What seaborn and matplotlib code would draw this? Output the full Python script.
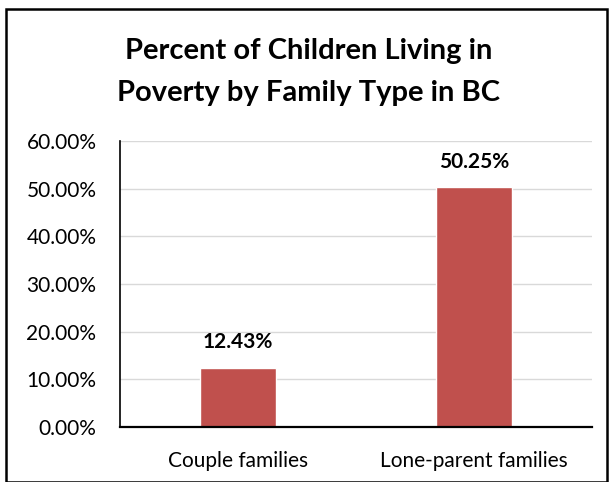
import matplotlib
matplotlib.use("Agg")
import matplotlib.pyplot as plt
import seaborn as sns
import pandas as pd
from matplotlib.patches import Rectangle
from matplotlib.ticker import FuncFormatter

categories = ["Couple families", "Lone-parent families"]
values = [12.43, 50.25]
yticks = [0, 10, 20, 30, 40, 50, 60]

sns.set_theme(style="white")
plt.rcParams['font.family'] = ['Lato', 'DejaVu Sans']

df = pd.DataFrame({"type": categories, "pct": values})

fig = plt.figure(figsize=(6.13, 4.82), dpi=100)
ax = fig.add_axes([120/613, 1-427/482, (592-120)/613, (427-141)/482])

sns.barplot(data=df, x="type", y="pct", color="#C0504D", width=0.32, ax=ax, saturation=1)

ax.set_ylim(0, 60)
ax.set_yticks(yticks)
ax.yaxis.set_major_formatter(FuncFormatter(lambda v, p: f"{v:.2f}%"))
ax.yaxis.grid(True, color="#D9D9D9", linewidth=1)
ax.set_axisbelow(True)
ax.set_xlabel("")
ax.set_ylabel("")
for s in ["top", "right"]:
    ax.spines[s].set_visible(False)
ax.spines["left"].set_color("black")
ax.spines["left"].set_linewidth(1.2)
ax.spines["bottom"].set_color("black")
ax.spines["bottom"].set_linewidth(1.6)
ax.tick_params(axis="y", labelsize=15, pad=17, length=0, colors="black")
ax.tick_params(axis="x", labelsize=15, pad=17, length=0, colors="black")

for i, v in enumerate(values):
    ax.text(i, v + 3.3, f"{v:.2f}%", ha="center", va="bottom", fontsize=15, fontweight="bold", color="black")

fig.text(0.503, 1-72/482, "Percent of Children Living in\nPoverty by Family Type in BC",
         ha="center", va="center", fontsize=21, fontweight="bold", linespacing=1.72, color="black")

fig.patches.append(Rectangle((6/613, 0), (607-6)/613, 1-9/482, transform=fig.transFigure,
                             fill=False, edgecolor="black", linewidth=1.8))

fig.savefig("out.png", dpi=100)
